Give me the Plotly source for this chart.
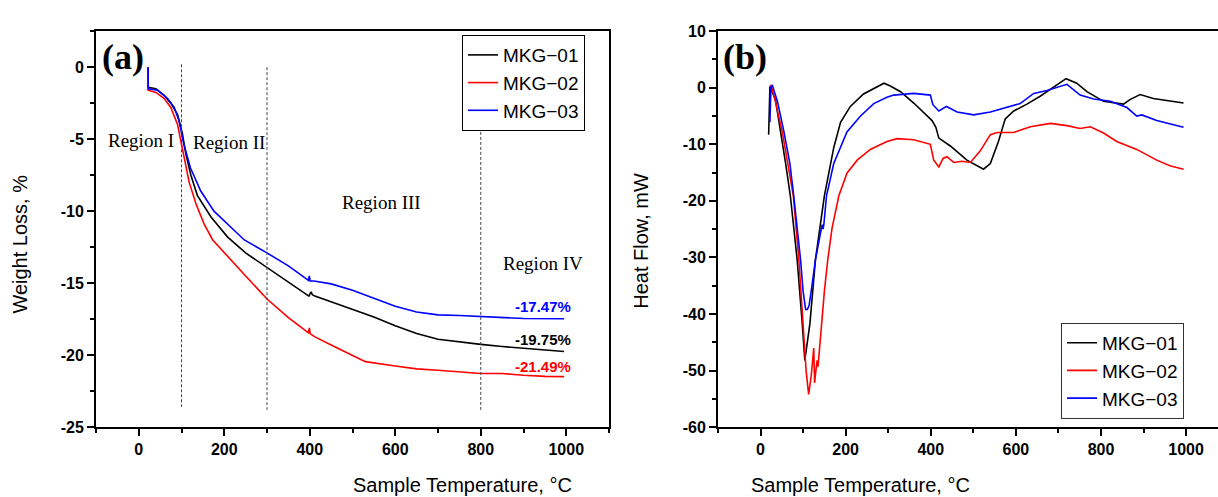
import plotly.graph_objects as go

W_, H_ = 1218, 497

# ---------------- Panel (a): TGA weight loss ----------------
tga01_T = [22, 22, 40, 59, 75, 91, 102, 110, 122, 137, 169, 208, 250, 300, 350, 398, 403, 406, 412, 450, 500, 550, 600, 650, 700, 750, 800, 850, 900, 950, 995]
tga01_W = [0.0, -1.4, -1.5, -1.94, -2.5, -3.3, -4.6, -6.0, -7.5, -8.9, -10.4, -11.8, -12.9, -13.9, -14.9, -15.9, -15.6, -15.8, -15.9, -16.3, -16.8, -17.35, -17.95, -18.5, -18.9, -19.1, -19.25, -19.4, -19.53, -19.65, -19.75]

tga02_T = [22, 22, 40, 59, 75, 91, 98, 106, 118, 134, 153, 173, 200, 250, 300, 350, 397, 399, 401, 410, 450, 500, 530, 600, 650, 700, 750, 800, 850, 900, 950, 995]
tga02_W = [0.0, -1.6, -1.75, -2.16, -2.8, -4.0, -5.07, -6.2, -8.0, -9.5, -10.9, -12.0, -12.9, -14.5, -16.1, -17.4, -18.45, -18.1, -18.5, -18.7, -19.3, -20.0, -20.45, -20.75, -20.95, -21.05, -21.15, -21.27, -21.27, -21.4, -21.47, -21.49]

tga03_T = [22, 22, 44, 67, 83, 94, 105, 121, 145, 176, 215, 247, 300, 350, 397, 399, 401, 410, 450, 500, 550, 600, 650, 700, 750, 800, 850, 900, 995]
tga03_W = [0.0, -1.5, -1.6, -2.16, -2.8, -3.7, -5.3, -7.0, -8.6, -10.0, -11.1, -12.0, -12.9, -13.8, -14.8, -14.5, -14.85, -14.85, -15.05, -15.5, -16.05, -16.6, -17.0, -17.2, -17.25, -17.32, -17.42, -17.45, -17.47]

# ---------------- Panel (b): DSC heat flow ----------------
dsc01_T = [19, 22, 35, 48, 59, 70, 86, 98, 104, 116, 129, 150, 172, 188, 211, 242, 274, 290, 305, 329, 360, 403, 412, 419, 446, 485, 524, 540, 559, 575, 595, 626, 657, 689, 718, 743, 767, 806, 853, 868, 892, 923, 962, 994]
dsc01_H = [-8.3, 0.2, -2.1, -7.8, -13.4, -19.1, -30.4, -41.7, -48.2, -41.7, -30.4, -19.1, -10.6, -6.1, -3.3, -1.1, 0.2, 0.8, 0.3, -0.7, -2.7, -5.8, -7.0, -8.9, -10.3, -12.8, -14.4, -13.4, -9.5, -5.5, -4.1, -2.9, -1.5, 0.17, 1.6, 0.8, -0.7, -2.4, -2.9, -2.1, -1.2, -1.9, -2.3, -2.7]

dsc02_T = [22, 25, 35, 51, 64, 77, 90, 100, 107, 113, 119, 125, 127, 130, 133, 135, 139, 150, 158, 168, 184, 203, 227, 258, 297, 321, 360, 399, 407, 419, 429, 438, 454, 473, 493, 516, 540, 556, 595, 634, 681, 720, 751, 775, 806, 837, 884, 931, 962, 994]
dsc02_H = [0.3, 0.4, -2.5, -7.8, -13.4, -19.1, -30.4, -41.7, -50.0, -54.2, -51.0, -46.0, -52.2, -50.0, -48.2, -49.3, -45.6, -36.0, -30.4, -24.8, -19.1, -15.1, -12.8, -10.9, -9.5, -9.0, -9.2, -10.0, -12.8, -14.0, -12.5, -12.2, -13.2, -13.0, -13.2, -11.2, -8.3, -7.9, -7.9, -6.9, -6.3, -6.7, -7.2, -6.9, -8.0, -9.5, -10.9, -12.8, -13.8, -14.4]

dsc03_T = [22, 24.5, 28, 40, 55, 69, 78, 86, 94, 100, 106, 110, 114, 119, 129, 140, 145, 147, 149, 155, 172, 203, 235, 266, 297, 313, 360, 399, 405, 419, 437, 462, 501, 540, 579, 610, 642, 673, 720, 751, 783, 822, 861, 884, 896, 931, 994]
dsc03_H = [-6.1, 0.2, 0.4, -2.5, -7.8, -13.4, -19.1, -24.8, -30.4, -36.0, -39.2, -39.2, -38.5, -36.0, -30.4, -26.0, -24.2, -25.0, -24.0, -19.1, -13.4, -7.8, -5.0, -2.8, -1.7, -1.3, -1.0, -1.3, -3.0, -4.1, -3.3, -4.3, -4.8, -4.3, -3.5, -2.8, -1.0, -0.5, 0.6, -1.3, -2.0, -2.4, -3.5, -5.0, -4.8, -5.8, -7.0]

names = ["MKG\u221201", "MKG\u221202", "MKG\u221203"]
colors = ["#000000", "#ff0000", "#0000ff"]

# tick labels
xa_vals = [0, 200, 400, 600, 800, 1000]
xa_text = ["0", "200", "400", "600", "800", "1000"]
ya_vals = [0, -5, -10, -15, -20, -25]
ya_text = ["0", "-5", "-10", "-15", "-20", "-25"]
yb_vals = [10, 0, -10, -20, -30, -40, -50, -60]
yb_text = ["10", "0", "-10", "-20", "-30", "-40", "-50", "-60"]

# region boundaries (x) and their vertical extents
region_x = [100, 300, 800]
region_ytop = [0.2, 0.0, -3.8]
region_ybot = [-23.6, -23.8, -23.8]
region_labels = ["Region I", "Region II", "Region III", "Region IV"]
region_lab_x = [5, 210, 567, 945]
region_lab_y = [-5.1, -5.25, -9.4, -13.6]

final_text = ["-19.75%", "-21.49%", "-17.47%"]
final_y = [-18.9, -20.8, -16.6]

fig = go.Figure()
tga = [(tga01_T, tga01_W), (tga02_T, tga02_W), (tga03_T, tga03_W)]
dsc = [(dsc01_T, dsc01_H), (dsc02_T, dsc02_H), (dsc03_T, dsc03_H)]
for (t, w), n, c in zip(tga, names, colors):
    fig.add_trace(go.Scatter(x=t, y=w, mode="lines", name=n, line=dict(color=c, width=1.6),
                             xaxis="x", yaxis="y", legend="legend"))
for (t, h), n, c in zip(dsc, names, colors):
    fig.add_trace(go.Scatter(x=t, y=h, mode="lines", name=n, line=dict(color=c, width=1.6),
                             xaxis="x2", yaxis="y2", legend="legend2"))

tickfont = dict(family="Liberation Sans, Arial", size=16, color="black", weight="bold")
ax_common = dict(showgrid=False, zeroline=False, showline=True, linecolor="black", linewidth=2,
                 ticks="outside", ticklen=7, tickwidth=1.8, tickcolor="black", tickfont=tickfont)

def bold(lst):
    return ["<b>%s</b>" % s for s in lst]

yd = [(497 - 434) / 497, (497 - 24) / 497]
legfont = dict(family="Liberation Sans, Arial", size=19, color="black")
fig.update_layout(
    width=W_, height=H_, margin=dict(l=0, r=0, t=0, b=0),
    paper_bgcolor="white", plot_bgcolor="white", showlegend=True,
    xaxis=dict(domain=[96 / W_, 609 / W_], range=[-100, 1100], anchor="y", mirror=True,
               tickvals=xa_vals, ticktext=bold(xa_text),
               minor=dict(ticks="outside", ticklen=4, dtick=100, tick0=0, tickcolor="black", tickwidth=1.5), **ax_common),
    yaxis=dict(domain=yd, range=[-25, 2.5], anchor="x", mirror=True,
               tickvals=ya_vals, ticktext=bold(ya_text),
               minor=dict(ticks="outside", ticklen=4, dtick=2.5, tick0=0, tickcolor="black", tickwidth=1.5), **ax_common),
    xaxis2=dict(domain=[718 / W_, 1.0], range=[-100, 1075], anchor="y2", mirror=True,
                tickvals=xa_vals, ticktext=bold(xa_text),
                minor=dict(ticks="outside", ticklen=4, dtick=100, tick0=0, tickcolor="black", tickwidth=1.5), **ax_common),
    yaxis2=dict(domain=yd, range=[-60, 10], anchor="x2", mirror=False,
                tickvals=yb_vals, ticktext=bold(yb_text),
                minor=dict(ticks="outside", ticklen=4, dtick=5, tick0=0, tickcolor="black", tickwidth=1.5), **ax_common),
    legend=dict(x=462 / W_, y=1 - 28 / H_, xanchor="left", yanchor="top",
                bordercolor="black", borderwidth=1, bgcolor="white", font=legfont,
                tracegroupgap=0, itemwidth=30),
    legend2=dict(x=1061 / W_, y=1 - 326 / H_, xanchor="left", yanchor="top",
                 bordercolor="#333333", borderwidth=1, bgcolor="white", font=legfont,
                 tracegroupgap=0, itemwidth=30),
)

shapes = []
for rx, yt, yb in zip(region_x, region_ytop, region_ybot):
    shapes.append(dict(type="line", xref="x", yref="y", x0=rx, x1=rx, y0=yt, y1=yb,
                       line=dict(color="#444444", width=1, dash="3px,2px")))
fig.update_layout(shapes=shapes)

ann = []
serif = dict(family="Liberation Serif, Times New Roman", size=19, color="black")
for lab, lx, ly in zip(region_labels, region_lab_x, region_lab_y):
    ann.append(dict(text=lab, x=lx, y=ly, xref="x", yref="y", showarrow=False, font=serif))
for txt, fy, c in zip(final_text, final_y, colors):
    ann.append(dict(text="<b>%s</b>" % txt, x=1016, y=fy, xref="x", yref="y", xanchor="right", showarrow=False,
                    font=dict(family="Liberation Sans, Arial", size=15, color=c)))
# panel letters
letter_font = dict(family="Liberation Serif, Times New Roman", size=36, color="black")
ann.append(dict(text="<b>(a)</b>", x=100 / W_, y=1 - 51 / H_, xref="paper", yref="paper", xanchor="left",
                yanchor="middle", showarrow=False, font=letter_font))
ann.append(dict(text="<b>(b)</b>", x=721 / W_, y=1 - 51 / H_, xref="paper", yref="paper", xanchor="left",
                yanchor="middle", showarrow=False, font=letter_font))
# axis titles
tfont = dict(family="Liberation Sans, Arial", size=20, color="black")
ann.append(dict(text="Sample Temperature, \u00b0C", x=351 / W_, y=1 - 494 / H_, xref="paper", yref="paper",
                showarrow=False, font=tfont, yanchor="middle"))
ann.append(dict(text="Sample Temperature, \u00b0C", x=972 / W_, y=1 - 494 / H_, xref="paper", yref="paper",
                showarrow=False, font=tfont, yanchor="middle"))
ann.append(dict(text="Weight Loss, %", x=20 / W_, y=1 - 245 / H_, xref="paper", yref="paper",
                showarrow=False, font=tfont, textangle=-90, xanchor="center", yanchor="middle"))
ann.append(dict(text="Heat Flow, mW", x=641 / W_, y=1 - 241 / H_, xref="paper", yref="paper",
                showarrow=False, font=tfont, textangle=-90, xanchor="center", yanchor="middle"))
fig.update_layout(annotations=ann)

post = ("document.body.style.margin='0';"
        "var d=document.getElementById('{plot_id}');"
        "d.style.position='fixed';d.style.left='0px';d.style.top='0px';")
fig.write_html("out.html", post_script=post, config={"displayModeBar": False})
